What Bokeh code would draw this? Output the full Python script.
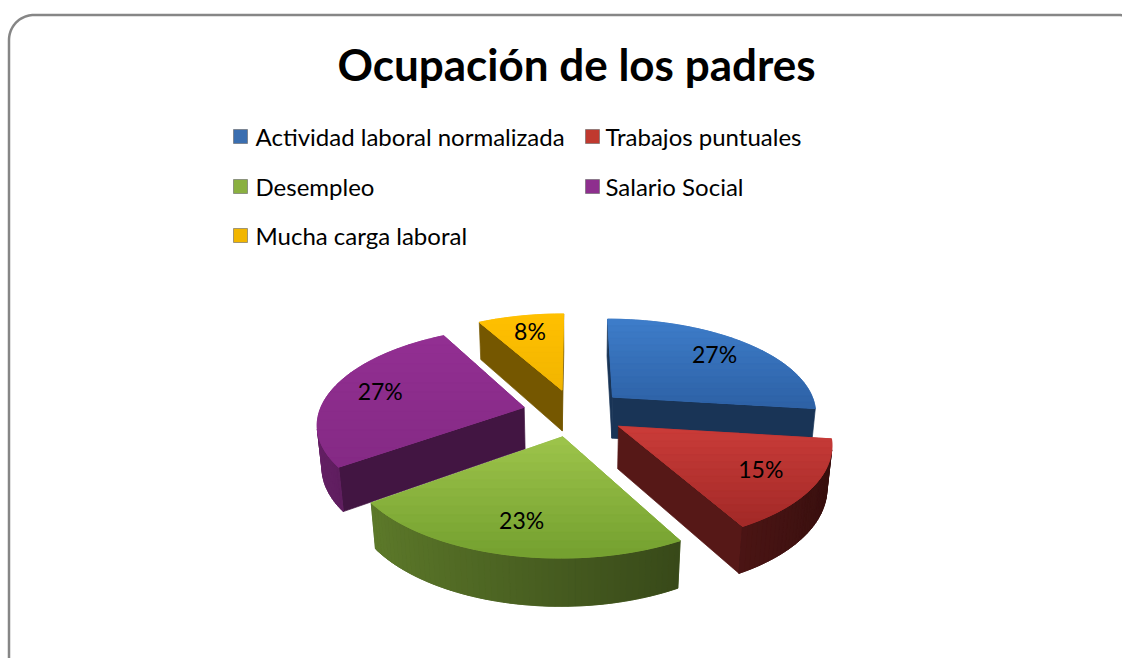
import numpy as np
from bokeh.plotting import figure
from bokeh.models import Range1d
from bokeh.core.properties import value
from bokeh.embed import file_html
from bokeh.resources import INLINE

# ---------------- data ----------------
title_text = "Ocupación de los padres"
categories = ["Actividad laboral normalizada", "Trabajos puntuales",
              "Desempleo", "Salario Social", "Mucha carga laboral"]
percentages = [27, 15, 23, 27, 8]
top_light = ["#3E7DCA", "#CA3C39", "#9DC44B", "#932F93", "#FFC000"]
top_dark = ["#2D61A5", "#A22927", "#74A02F", "#842A84", "#F2B500"]
legend_colors = ["#3A6EB0", "#C0392F", "#8AB040", "#8E2F8E", "#F2B600"]

# ---------------- layout ----------------
W, H = 1122, 658

p = figure(width=W, height=H, output_backend="svg", toolbar_location=None,
           x_range=Range1d(0, W), y_range=Range1d(H, 0),
           min_border=0, x_axis_location=None, y_axis_location=None,
           outline_line_color=None, background_fill_color="white",
           border_fill_color="white")
p.xgrid.visible = False
p.ygrid.visible = False


def rounded_rect(x0, y0, x1, y1, r, n=24):
    xs, ys = [], []
    for (cx, cy, a0, a1) in [(x0 + r, y0 + r, np.pi, 1.5 * np.pi),
                             (x1 - r, y0 + r, 1.5 * np.pi, 2 * np.pi),
                             (x1 - r, y1 - r, 0, 0.5 * np.pi),
                             (x0 + r, y1 - r, 0.5 * np.pi, np.pi)]:
        a = np.linspace(a0, a1, n)
        xs.extend(cx + r * np.cos(a))
        ys.extend(cy + r * np.sin(a))
    xs.append(xs[0]); ys.append(ys[0])
    return xs, ys


bx, by = rounded_rect(8.5, 14.5, 1143, 700, 25)
p.line(bx, by, line_color="#868686", line_width=2.5)

# title
p.text(x=[576], y=[63.5], text=[title_text], text_font=value("Lato"),
       text_font_size=value("44px"), text_font_style="bold",
       text_align="center", text_baseline="middle", text_color="black")

# legend
leg_mx = [240, 592, 240, 592, 240]
leg_tx = [255, 605, 255, 605, 255]
leg_y = [136, 136, 186, 186, 235]
p.scatter(leg_mx, leg_y, marker="square", size=14, fill_color=legend_colors,
          line_color="#666666", line_width=0.6)
p.text(x=leg_tx, y=[v - 0.5 for v in leg_y], text=categories,
       text_font=value("Lato"), text_font_size=value("24px"),
       text_align="left", text_baseline="middle", text_color="black")

# ---------------- 3D pie ----------------
CX, CY = 574.0, 412.0
R = 205.0
PHI = np.arcsin(0.46)
D = 1184.0
TH = 48.0
EXPL = 52.0
LAB = 0.75
CAM = np.array([0.0, -D * np.cos(PHI), D * np.sin(PHI)])


def project(u, v, h):
    u = np.asarray(u, float); v = np.asarray(v, float); h = np.asarray(h, float)
    Y = v * np.sin(PHI) + h * np.cos(PHI)
    Z = v * np.cos(PHI) - h * np.sin(PHI)
    s = D / (D + Z)
    return CX + u * s, CY - Y * s


def hex2rgb(c):
    c = c.lstrip("#")
    return np.array([int(c[i:i + 2], 16) for i in (0, 2, 4)], float)


def rgb2hex(rgb):
    rgb = np.clip(np.round(rgb), 0, 255).astype(int)
    return "#%02x%02x%02x" % tuple(rgb)


def shade(c, f):
    return rgb2hex(hex2rgb(c) * f)


def mix(c1, c2, t):
    return rgb2hex(hex2rgb(c1) * (1 - t) + hex2rgb(c2) * t)


def visible(normal, point):
    return np.dot(normal, CAM - point) > 0


def clip_half(px, py, yc, keep_below):
    out_x, out_y = [], []
    n = len(px)
    for k in range(n):
        x1, y1 = px[k], py[k]
        x2, y2 = px[(k + 1) % n], py[(k + 1) % n]
        in1 = (y1 >= yc) if keep_below else (y1 <= yc)
        in2 = (y2 >= yc) if keep_below else (y2 <= yc)
        if in1:
            out_x.append(x1); out_y.append(y1)
        if in1 != in2:
            t = (yc - y1) / (y2 - y1)
            out_x.append(x1 + t * (x2 - x1)); out_y.append(yc)
    return out_x, out_y


total = float(sum(percentages))
cum = np.concatenate([[0], np.cumsum(percentages)]) / total * 2 * np.pi

slices = []
for i, val in enumerate(percentages):
    a0, a1 = cum[i], cum[i + 1]
    m = 0.5 * (a0 + a1)
    ou, ov = EXPL * np.sin(m), EXPL * np.cos(m)
    depth = (ov + 0.5 * R * np.cos(m)) * np.cos(PHI)
    slices.append((depth, i, a0, a1, m, ou, ov))
slices.sort(key=lambda t: -t[0])

poly_x, poly_y, poly_c = [], [], []


def add(x, y, c):
    poly_x.append(list(map(float, x))); poly_y.append(list(map(float, y))); poly_c.append(c)


for depth, i, a0, a1, m, ou, ov in slices:
    base = mix(top_light[i], top_dark[i], 0.5)
    wall = shade(base, 0.47)
    n = max(8, int(np.degrees(a1 - a0) / 1.5))
    th = np.linspace(a0, a1, n + 1)
    au, av = ou + R * np.sin(th), ov + R * np.cos(th)
    # radial walls
    walls = [
        (np.array([-np.cos(a0), np.sin(a0)]), [ou, au[0], au[0], ou], [ov, av[0], av[0], ov]),
        (np.array([np.cos(a1), -np.sin(a1)]), [ou, au[-1], au[-1], ou], [ov, av[-1], av[-1], ov]),
    ]
    for nrm, us, vs in walls:
        pt = np.array([0.5 * (us[0] + us[1]), 0.5 * (vs[0] + vs[1]), -TH / 2])
        if visible(np.array([nrm[0], nrm[1], 0.0]), pt):
            x, y = project(us, vs, [0, 0, -TH, -TH])
            add(x, y, wall)
    # outer curved wall
    vis = []
    for j in range(n):
        tm = 0.5 * (th[j] + th[j + 1])
        nrm = np.array([np.sin(tm), np.cos(tm), 0.0])
        pt = np.array([ou + R * np.sin(tm), ov + R * np.cos(tm), -TH / 2])
        vis.append(visible(nrm, pt))
    idx = [j for j in range(n) if vis[j]]
    if idx:
        j0, j1 = idx[0], idx[-1] + 1
        tu = au[j0:j1 + 1]; tv = av[j0:j1 + 1]
        xt, yt = project(tu, tv, np.zeros_like(tu))
        xb, yb = project(tu, tv, np.full_like(tu, -TH))
        tmid = 0.5 * (th[j0] + th[j1])
        add(np.concatenate([xt, xb[::-1]]), np.concatenate([yt, yb[::-1]]),
            shade(base, 0.3 + 0.42 * (1 - np.sin(tmid)) / 2))
        for j in idx:
            tm = 0.5 * (th[j] + th[j + 1])
            us = [au[j], au[j + 1], au[j + 1], au[j]]
            vs = [av[j], av[j + 1], av[j + 1], av[j]]
            x, y = project(us, vs, [0, 0, -TH, -TH])
            add(x, y, shade(base, 0.3 + 0.42 * (1 - np.sin(tm)) / 2))
    # top face with vertical gradient (horizontal bands)
    us = np.concatenate([[ou], au]); vs = np.concatenate([[ov], av])
    x, y = project(us, vs, np.zeros_like(us))
    add(x, y, base)
    ymin, ymax = float(np.min(y)), float(np.max(y))
    nb = 14
    edges = np.linspace(ymin, ymax, nb + 1)
    for b in range(nb):
        cx_, cy_ = clip_half(list(x), list(y), edges[b], True)
        if len(cx_) < 3:
            continue
        cx_, cy_ = clip_half(cx_, cy_, edges[b + 1], False)
        if len(cx_) < 3:
            continue
        add(cx_, cy_, mix(top_light[i], top_dark[i], (b + 0.5) / nb))

p.patches(poly_x, poly_y, fill_color=poly_c, line_color=poly_c, line_width=0.7)

# data labels
lab_x, lab_y = [], []
for i, val in enumerate(percentages):
    m = 0.5 * (cum[i] + cum[i + 1])
    r = EXPL + LAB * R
    x, y = project(r * np.sin(m), r * np.cos(m), 0.0)
    lab_x.append(float(x)); lab_y.append(float(y) - 1.5)
labels = ["%d%%" % v for v in percentages]
p.text(x=lab_x, y=lab_y, text=labels, text_font=value("Lato"),
       text_font_size=value("23px"), text_align="center",
       text_baseline="middle", text_color="black")

open("out.html", "w").write(file_html(p, INLINE))
